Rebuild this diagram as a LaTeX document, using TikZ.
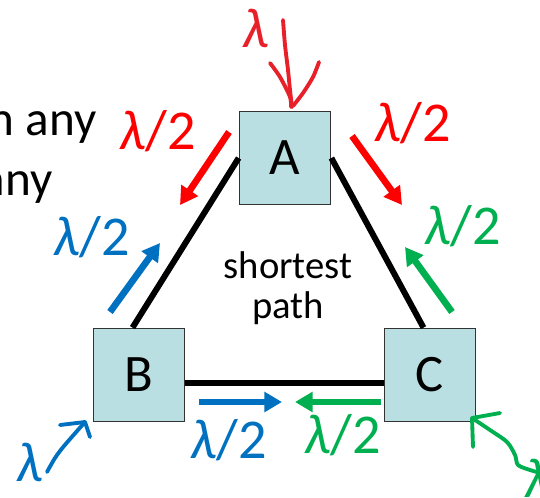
\documentclass[tikz,border=0pt]{standalone}
\usepackage{fontspec}
\setmainfont{Carlito}
\usetikzlibrary{arrows.meta}
\definecolor{boxfill}{HTML}{BADFE3}
\definecolor{boxline}{HTML}{333333}
\definecolor{redflow}{HTML}{FF0000}
\definecolor{redpen}{HTML}{E8202A}
\definecolor{blueflow}{HTML}{0070C0}
\definecolor{greenflow}{HTML}{00B050}
\newcommand{\halfrate}{\textit{λ}/2}
\newcommand{\fullrate}{\textit{λ}}

\begin{document}
\begin{tikzpicture}[x=0.02cm,y=-0.02cm,
    router/.style={draw=boxline,line width=1pt,fill=boxfill,minimum width=1.82cm,
      minimum height=1.86cm,inner sep=0pt,font=\fontsize{30}{30}\selectfont},
    link/.style={line width=3.4pt},
    flow/.style={line width=3.8pt,-{Triangle[length=10pt,width=11pt]}},
    pen/.style={line width=2.2pt,line cap=round,line join=round},
    rate/.style={inner sep=0pt,font=\fontsize{32}{32}\selectfont}]
  \useasboundingbox (0,0) rectangle (540,497);
  \clip (0,0) rectangle (540,497);

  % slide text cut off at the left edge
  \node[anchor=base east,inner sep=0pt,font=\fontsize{28}{28}\selectfont] (textone) at (97,135) {n any};
  \node[anchor=base east,inner sep=0pt,font=\fontsize{28}{28}\selectfont] (texttwo) at (53,195) {any};

  % routers
  \node[router] (A) at (285,158) {A};
  \node[router] (B) at (139,375) {B};
  \node[router] (C) at (430,375) {C};

  % links
  \draw[link] (A.west) -- ([xshift=-0.13cm]B.north);
  \draw[link] (A.east) -- ([xshift=-0.13cm]C.north);
  \draw[link] ([yshift=-0.16cm]B.east) -- ([yshift=-0.16cm]C.west);

  \node[align=center,inner sep=0pt,font=\fontsize{22}{22.7}\selectfont] (sp) at (288,288) {shortest\\path};

  % split traffic
  \foreach \name/\col/\x/\y in {
    ratea/redflow/158/131, rateb/redflow/413/123, ratec/greenflow/463/226,
    rated/blueflow/92/237, ratee/blueflow/229/440, ratef/greenflow/343/435}
    \node[rate,text=\col] (\name) at (\x,\y) {\halfrate};
  \foreach \col/\xa/\ya/\xb/\yb in {
    redflow/229/132/180/205, redflow/352/136/402/205,
    greenflow/452/312/405/247, blueflow/110/312/160/243,
    blueflow/199/402/282/402, greenflow/381/402/295/402}
    \draw[flow,\col] (\xa,\ya) -- (\xb,\yb);

  % hand-drawn inputs
  \node[rate,text=redpen] (inA) at (256,28) {\fullrate};
  \draw[pen,redpen] plot[smooth] coordinates {(283,20) (285,45) (288,70) (290,90) (292,107)};
  \draw[pen,redpen] plot[smooth] coordinates {(270,63) (280,77) (290,97) (291,107)};
  \draw[pen,redpen] plot[smooth] coordinates {(319,62) (313,77) (303,93) (293,106)};

  \node[rate,text=blueflow] (inB) at (30,462) {\fullrate};
  \draw[pen,blueflow] plot[smooth] coordinates {(47,472) (55,458) (64,446) (85,422)};
  \draw[pen,blueflow] (60,425) -- (85,422) -- (90,437);

  \node[rate,text=greenflow] (inC) at (538,478) {\fullrate};
  \draw[pen,greenflow] plot[smooth] coordinates {(472,418) (490,430) (507,442) (515,455) (518,465) (530,470) (537,472)};
  \draw[pen,greenflow] (500,413) -- (472,418) -- (473,447);
\end{tikzpicture}
\end{document}
